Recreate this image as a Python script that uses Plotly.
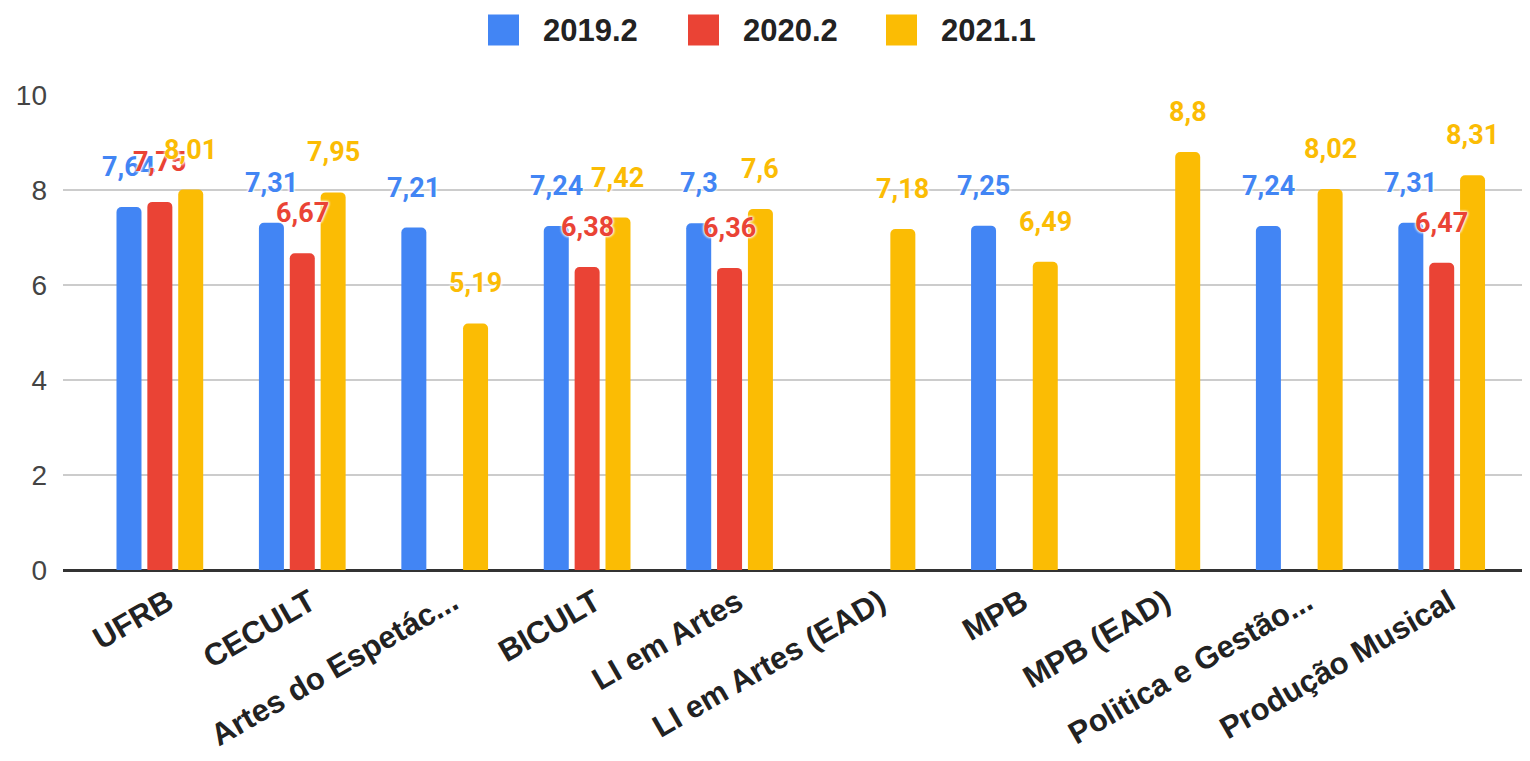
import plotly.graph_objects as go

categories = ["UFRB", "CECULT", "Artes do Espetác...", "BICULT", "LI em Artes",
              "LI em Artes (EAD)", "MPB", "MPB (EAD)", "Politica e Gestão...", "Produção Musical"]
series_names = ["2019.2", "2020.2", "2021.1"]
v2019_2 = [7.64, 7.31, 7.21, 7.24, 7.3, None, 7.25, None, 7.24, 7.31]
v2020_2 = [7.75, 6.67, None, 6.38, 6.36, None, None, None, None, 6.47]
v2021_1 = [8.01, 7.95, 5.19, 7.42, 7.6, 7.18, 6.49, 8.8, 8.02, 8.31]
colors = ["#4285F4", "#EA4335", "#FBBC04"]
y_ticks = [0, 2, 4, 6, 8, 10]

all_series = [v2019_2, v2020_2, v2021_1]
BARGAP = 0.35

# layout geometry (pixels)
W, H = 1522, 753
ML, MR, MT, MB = 55, 0, 87, 191
PAGE_OFF = 8  # default body margin of the page
plot_left = PAGE_OFF + ML
plot_top = PAGE_OFF + MT
plot_w = W - ML - MR
plot_h = H - MT - MB

def px_x(px):
    return (px - plot_left) / plot_w

def px_y(py):
    return (plot_top + plot_h - py) / plot_h

fig = go.Figure()
xs = list(range(len(categories)))
for name, vals, col in zip(series_names, all_series, colors):
    fig.add_trace(go.Bar(
        x=xs, y=vals, name=name, showlegend=False,
        marker=dict(color=col, cornerradius=5, line=dict(width=0)),
    ))

def fmt(v):
    return f"{v:g}".replace(".", ",")

slot = (1 - BARGAP) / 3
annotations = []
for j, (vals, col) in enumerate(zip(all_series, colors)):
    for i, v in enumerate(vals):
        if v is None:
            continue
        annotations.append(dict(
            x=i + (j - 1) * slot, y=v, xref="x", yref="y",
            text=fmt(v), showarrow=False, yanchor="middle", yshift=40,
            font=dict(family="Roboto", size=27, color=col, weight="bold",
                      shadow="0 0 3px white, 0 0 3px white, 0 0 3px white"),
        ))

# custom legend (large rounded swatches)
legend_swatch_left = [488, 688, 886]
swatch_size = 31
legend_cy = 30
shapes = []
for name, col, sx in zip(series_names, colors, legend_swatch_left):
    shapes.append(dict(
        type="rect", xref="paper", yref="paper",
        x0=px_x(sx), x1=px_x(sx + swatch_size),
        y0=px_y(legend_cy + swatch_size / 2), y1=px_y(legend_cy - swatch_size / 2),
        fillcolor=col, line=dict(width=0), layer="above",
    ))
    annotations.append(dict(
        x=px_x(sx + swatch_size + 22), y=px_y(legend_cy), xref="paper", yref="paper",
        xanchor="left", yanchor="middle", showarrow=False, text=name,
        font=dict(family="Liberation Sans", size=31, weight="bold", color="#222"),
    ))

fig.update_layout(
    width=W, height=H,
    paper_bgcolor="white", plot_bgcolor="white",
    barmode="group", bargap=BARGAP, bargroupgap=0.19,
    margin=dict(l=ML, r=MR, t=MT, b=MB, autoexpand=False),
    font=dict(family="Liberation Sans", color="#222"),
    showlegend=False,
    xaxis=dict(
        tickmode="array", tickvals=xs, ticktext=categories,
        range=[-0.68, 9.62], tickangle=-30,
        tickfont=dict(family="Liberation Sans", size=31, weight="bold", color="#222"),
        showgrid=False, showline=True, linecolor="#333", linewidth=2,
        ticks="", ticklen=0, ticklabelshift=8,
    ),
    yaxis=dict(
        range=[0, 10], tickvals=y_ticks,
        tickfont=dict(family="Liberation Sans", size=28, color="#444"),
        showgrid=True, gridcolor="#cccccc", gridwidth=2,
        zeroline=True, zerolinecolor="#333", zerolinewidth=2,
        ticks="", ticklabelstandoff=15,
    ),
    annotations=annotations,
    shapes=shapes,
)

fig.write_html("out.html")
